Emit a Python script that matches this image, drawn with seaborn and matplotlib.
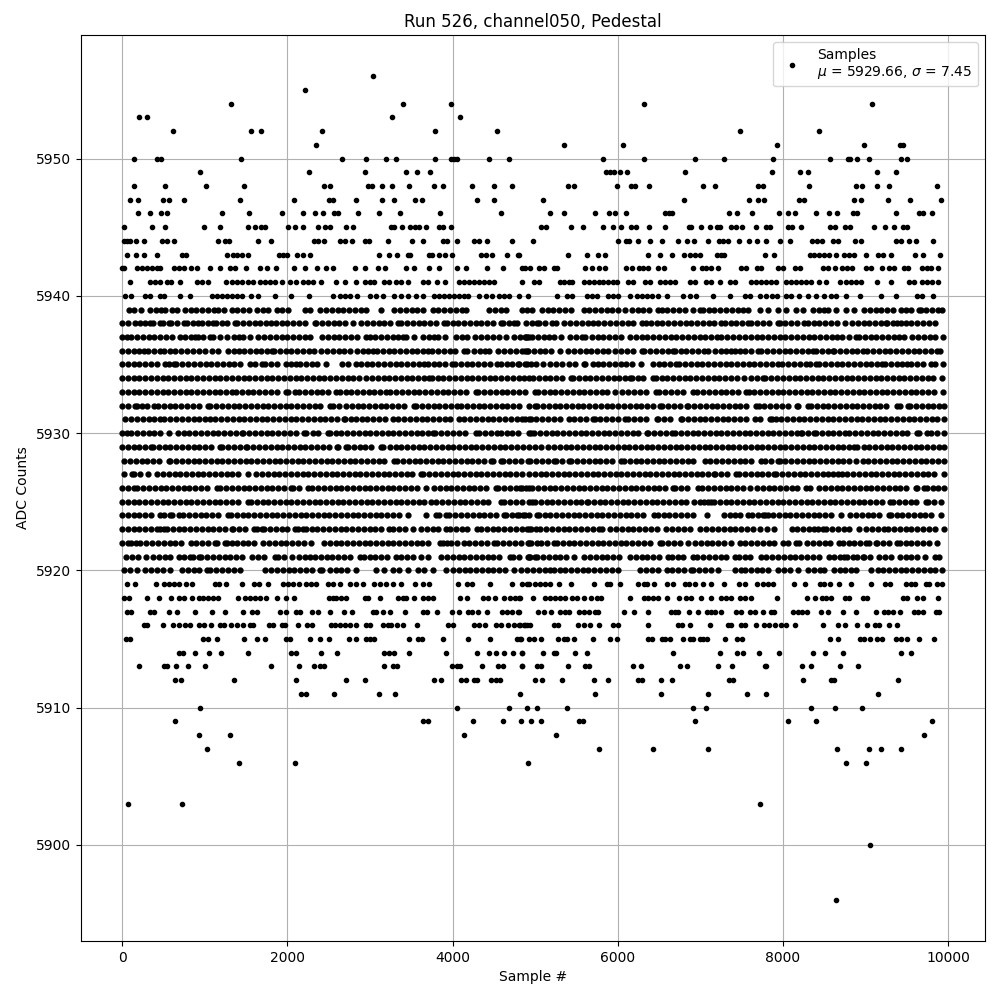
"""
Pedestal samples for run 526, channel050, one list of sample numbers per ADC level.
Sample numbers are read off the picture. Where points merge into a bar they are
estimates that follow the bar's extent, so these rows hold fewer points than the original.
"""
import matplotlib
matplotlib.use("Agg")
import matplotlib.pyplot as plt
import pandas as pd
import seaborn as sns

TITLE = "Run 526, channel050, Pedestal"
LEGEND_LABEL = "Samples\n$\\mu$ = 5929.66, $\\sigma$ = 7.45"

s5956 = [3035]
s5955 = [2215]
s5954 = [1323, 3397, 3976, 6314, 9075]
s5953 = [200, 298, 3264, 4096]
s5952 = [611, 1564, 1684, 2420, 3783, 4543, 7483, 8436]
s5951 = [2348, 5349, 6060, 7930, 8979, 9413, 9457]
s5950 = [141, 418, 466, 1443, 2661, 2951, 3192, 3312, 3783, 3976, 4012, 4060, 4446, 4679, 5819, 6314, 6929, 7290, 7881, 8569, 8786, 8810, 8894, 9039, 9433, 9497]
s5949 = [949, 2263, 2939, 3433, 3566, 3723, 5855, 5904, 5952, 6024, 6109, 6808, 7869, 8207, 8303, 9136, 9365]
s5948 = [141, 515, 1021, 1479, 2444, 2516, 2975, 3023, 3143, 3264, 3469, 3771, 3879, 4241, 4506, 4724, 5397, 5469, 5988, 6157, 6205, 6374, 7037, 7182, 7700, 7761, 8320, 8882, 8955, 9136, 9280, 9859]
s5947 = [92, 189, 490, 563, 744, 1431, 2082, 2504, 2553, 2830, 3143, 3288, 3541, 3626, 4301, 4506, 5095, 6796, 7592, 7700, 7773, 8195, 8255, 8858, 8943, 9268, 9534, 9907]
s5946 = [189, 334, 466, 539, 1214, 1540, 1938, 2191, 2335, 2432, 2565, 2613, 2854, 3107, 3361, 3843, 4591, 5180, 5349, 5723, 5891, 5964, 6096, 6567, 6615, 6651, 7351, 7447, 7628, 7954, 8062, 8147, 8400, 8557, 8653, 8846, 8894, 9365, 9642, 9690, 9799]
s5945 = [20, 358, 515, 997, 1190, 1528, 1612, 1684, 1733, 2010, 2095, 2191, 2372, 2456, 2516, 2710, 2794, 3252, 3288, 3385, 3481, 3541, 3590, 3674, 3831, 3879, 3976, 5071, 5132, 5433, 5578, 5819, 5940, 6036, 6157, 6217, 6374, 6567, 6868, 6892, 7013, 7122, 7206, 7242, 7375, 7435, 7507, 7676, 7797, 7845, 8062, 8110, 8219, 8569, 8629, 8750, 8810, 9099, 9232, 9341, 9453, 9501]
s5944 = [20, 60, 100, 165, 261, 478, 539, 623, 1166, 1250, 1298, 1648, 1805, 2324, 2372, 2444, 2637, 2697, 2782, 2939, 2987, 3216, 3505, 3638, 3879, 3928, 4060, 4265, 4326, 4422, 4724, 4975, 6000, 6096, 6133, 6241, 6386, 6531, 6724, 6844, 6917, 7098, 7230, 7278, 7339, 7471, 7592, 7688, 7797, 7966, 8086, 8352, 8412, 8472, 8605, 8665, 8870, 8943, 9365, 9425, 9522, 9606, 9811]
s5943 = [60, 165, 261, 418, 720, 768, 1274, 1347, 1395, 1455, 1528, 1901, 1950, 1998, 2119, 2191, 2275, 3107, 3228, 3325, 3457, 3481, 3710, 3747, 3831, 3903, 3988, 4350, 4410, 4482, 4663, 4796, 4802, 5397, 5626, 5759, 5843, 6362, 6507, 6651, 6796, 6880, 6929, 7001, 7206, 7254, 7290, 7785, 7893, 8328, 8376, 8436, 8496, 8557, 8641, 8738, 8798, 8858, 9003, 9148, 9208, 9304, 9594, 9698, 9895]
s5942 = [0, 20, 181, 241, 302, 362, 422, 462, 623, 683, 744, 832, 912, 1065, 1186, 1306, 1367, 1495, 1668, 1749, 1869, 2086, 2215, 2360, 2472, 2553, 2818, 2939, 3095, 3180, 3437, 3530, 3719, 3839, 4060, 4169, 4422, 4615, 4844, 4882, 4943, 5043, 5104, 5224, 5264, 5602, 5694, 5767, 5843, 6096, 6169, 6253, 6302, 6362, 6482, 6555, 6905, 7025, 7073, 7134, 7214, 7495, 7556, 7688, 7737, 7942, 8002, 8147, 8207, 8484, 8545, 8629, 8714, 8774, 8834, 9003, 9063, 9196, 9280, 9341, 9461, 9510, 9678, 9739, 9787, 9871]
s5941 = [92, 342, 402, 462, 543, 591, 703, 905, 965, 1045, 1254, 1327, 1387, 1447, 1528, 1588, 1668, 1729, 1789, 1849, 1930, 2030, 2110, 2191, 2251, 2312, 2408, 2593, 2693, 2830, 2935, 2995, 3055, 3176, 3236, 3316, 3377, 3457, 3638, 3698, 3807, 3903, 4080, 4141, 4201, 4261, 4322, 4382, 4442, 4502, 4844, 4983, 5043, 5305, 5345, 5405, 5445, 5586, 5646, 5707, 5767, 5827, 5887, 5948, 5996, 6129, 6189, 6330, 6390, 6511, 6571, 6631, 6691, 6872, 6933, 7073, 7134, 7234, 7355, 7415, 7608, 7676, 7737, 7797, 7857, 7918, 8038, 8098, 8159, 8219, 8279, 8340, 8440, 8521, 8693, 8762, 8822, 8882, 8943, 9136, 9304, 9525, 9586, 9686, 9747, 9807, 9875]
s5940 = [40, 108, 273, 334, 454, 502, 703, 816, 1085, 1146, 1206, 1266, 1327, 1387, 1447, 1556, 1640, 1849, 2046, 2263, 2553, 2641, 2693, 2754, 2842, 2995, 3075, 3156, 3296, 3377, 3457, 3558, 3638, 3779, 3839, 3899, 3960, 4020, 4080, 4141, 4193, 4322, 4410, 4474, 4563, 4623, 4683, 4802, 4915, 5264, 5385, 5445, 5626, 5686, 5747, 5879, 5948, 6008, 6149, 6229, 6289, 6350, 6418, 6482, 6599, 6784, 6872, 6953, 7154, 7355, 7536, 7604, 7716, 7797, 7865, 7930, 8038, 8098, 8199, 8300, 8400, 8500, 8581, 8641, 8762, 8935, 9184, 9365, 9626, 9686, 9811]
s5939 = [80, 141, 229, 342, 410, 475, 523, 603, 663, 764, 830, 900, 970, 1040, 1110, 1166, 1238, 1327, 1395, 1465, 1535, 1628, 1709, 1769, 1870, 1940, 2010, 2211, 2280, 2392, 2472, 2540, 2610, 2680, 2750, 2820, 2890, 2955, 3135, 3296, 3365, 3435, 3505, 3575, 3645, 3759, 3819, 3899, 3970, 4040, 4110, 4161, 4443, 4513, 4583, 4645, 4842, 4905, 4963, 5083, 5150, 5220, 5290, 5365, 5433, 5586, 5655, 5725, 5795, 5865, 5935, 6005, 6088, 6169, 6240, 6310, 6380, 6490, 6531, 6600, 6670, 6740, 6812, 6913, 6993, 7033, 7100, 7170, 7240, 7310, 7380, 7450, 7516, 7576, 7716, 7817, 7938, 8038, 8159, 8239, 8360, 8430, 8500, 8541, 8641, 8762, 8862, 8983, 9050, 9120, 9190, 9260, 9330, 9425, 9485, 9546, 9646, 9666, 9735, 9805, 9875, 9928]
s5938 = [0, 70, 161, 213, 280, 342, 374, 462, 490, 563, 591, 660, 744, 784, 855, 924, 973, 1040, 1105, 1134, 1205, 1275, 1367, 1395, 1465, 1535, 1605, 1675, 1745, 1797, 1858, 1930, 2000, 2070, 2140, 2210, 2331, 2352, 2420, 2490, 2560, 2630, 2700, 2794, 2894, 2965, 3035, 3105, 3175, 3245, 3337, 3377, 3450, 3520, 3590, 3660, 3730, 3800, 3892, 3928, 4000, 4070, 4140, 4210, 4280, 4350, 4420, 4490, 4583, 4615, 4685, 4744, 4784, 4884, 4963, 5023, 5051, 5120, 5204, 5256, 5345, 5425, 5495, 5565, 5635, 5705, 5759, 5839, 5910, 5980, 6050, 6120, 6190, 6289, 6338, 6398, 6470, 6540, 6610, 6680, 6750, 6820, 6890, 6960, 7030, 7100, 7170, 7254, 7294, 7365, 7435, 7505, 7576, 7616, 7690, 7760, 7830, 7938, 7958, 8030, 8100, 8170, 8259, 8300, 8370, 8440, 8510, 8580, 8650, 8750, 8834, 8905, 8975, 9045, 9115, 9185, 9244, 9264, 9335, 9385, 9425, 9485, 9555, 9625, 9695, 9765, 9839]
s5937 = [0, 60, 108, 180, 250, 320, 390, 460, 530, 600, 703, 764, 830, 884, 913, 985, 1065, 1105, 1185, 1266, 1359, 1420, 1467, 1548, 1648, 1720, 1790, 1860, 1930, 2000, 2070, 2140, 2210, 2271, 2420, 2490, 2560, 2630, 2700, 2770, 2840, 2955, 2995, 3065, 3135, 3205, 3276, 3337, 3400, 3437, 3538, 3638, 3719, 3779, 3819, 3912, 4040, 4110, 4180, 4273, 4349, 4420, 4490, 4560, 4643, 4744, 4815, 4885, 4925, 4874, 4902, 4963, 5035, 5105, 5164, 5224, 5317, 5425, 5495, 5565, 5606, 5686, 5755, 5825, 5895, 5965, 6035, 6149, 6217, 6290, 6360, 6430, 6500, 6570, 6640, 6710, 6780, 6850, 6920, 6990, 7060, 7130, 7200, 7254, 7326, 7400, 7470, 7540, 7610, 7680, 7750, 7820, 7890, 7960, 8030, 8100, 8170, 8240, 8310, 8380, 8450, 8520, 8590, 8659, 8718, 8800, 8882, 8922, 8990, 9060, 9130, 9200, 9270, 9340, 9405, 9465, 9566, 9635, 9705, 9775, 9845, 9940]
s5936 = [0, 70, 140, 210, 261, 314, 385, 462, 503, 575, 645, 715, 785, 855, 925, 1005, 1085, 1166, 1278, 1350, 1419, 1475, 1545, 1615, 1685, 1755, 1809, 1841, 1910, 1980, 2050, 2120, 2190, 2260, 2319, 2412, 2480, 2550, 2620, 2690, 2760, 2842, 2915, 2975, 3035, 3083, 3155, 3225, 3295, 3365, 3435, 3505, 3575, 3645, 3698, 3751, 3825, 3895, 3965, 4035, 4141, 4181, 4260, 4330, 4394, 4442, 4551, 4625, 4695, 4765, 4835, 4904, 4882, 4914, 4985, 5055, 5125, 5195, 5305, 5397, 5470, 5540, 5610, 5680, 5750, 5820, 5880, 5968, 6040, 6110, 6180, 6289, 6322, 6395, 6465, 6535, 6605, 6671, 6691, 6760, 6830, 6900, 6970, 7040, 7093, 7174, 7246, 7310, 7367, 7415, 7475, 7545, 7615, 7696, 7737, 7810, 7880, 7950, 8020, 8090, 8160, 8230, 8300, 8360, 8400, 8470, 8540, 8601, 8621, 8690, 8760, 8830, 8900, 8963, 9015, 9090, 9160, 9230, 9300, 9370, 9440, 9510, 9580, 9650, 9720, 9790, 9860, 9900]
s5935 = [0, 70, 140, 210, 280, 350, 420, 523, 563, 623, 655, 730, 800, 870, 940, 1010, 1080, 1150, 1220, 1290, 1360, 1430, 1548, 1608, 1688, 1729, 1800, 1870, 1982, 2050, 2110, 2151, 2225, 2295, 2365, 2472, 2665, 2740, 2834, 2886, 2960, 3030, 3100, 3170, 3240, 3310, 3380, 3450, 3520, 3590, 3658, 3698, 3770, 3840, 3910, 3998, 4024, 4100, 4170, 4240, 4310, 4380, 4450, 4542, 4583, 4655, 4725, 4795, 4904, 4802, 4875, 4945, 5015, 5091, 5184, 5255, 5325, 5405, 5480, 5586, 5606, 5706, 5755, 5825, 5895, 5965, 6035, 6105, 6175, 6281, 6422, 6495, 6565, 6635, 6711, 6744, 6815, 6885, 6955, 7025, 7095, 7165, 7235, 7305, 7375, 7445, 7515, 7585, 7655, 7725, 7795, 7865, 7938, 7986, 8066, 8139, 8210, 8279, 8328, 8400, 8440, 8510, 8580, 8650, 8720, 8790, 8860, 8930, 9000, 9070, 9140, 9204, 9236, 9305, 9375, 9445, 9505, 9546, 9620, 9690, 9787, 9835, 9940]
s5934 = [0, 70, 140, 210, 280, 350, 420, 490, 560, 630, 700, 770, 840, 910, 980, 1050, 1120, 1190, 1260, 1330, 1400, 1470, 1540, 1610, 1680, 1750, 1820, 1890, 1960, 2030, 2100, 2170, 2240, 2310, 2380, 2450, 2520, 2590, 2660, 2730, 2800, 2870, 2955, 3025, 3095, 3165, 3235, 3305, 3375, 3445, 3515, 3585, 3655, 3719, 3747, 3820, 3890, 3960, 4030, 4100, 4170, 4240, 4310, 4380, 4450, 4520, 4590, 4660, 4730, 4800, 4870, 4931, 4971, 5045, 5115, 5185, 5255, 5325, 5437, 5457, 5530, 5600, 5670, 5740, 5810, 5880, 5950, 6020, 6090, 6149, 6169, 6240, 6310, 6430, 6458, 6530, 6600, 6670, 6740, 6810, 6880, 6950, 7020, 7090, 7160, 7230, 7300, 7370, 7440, 7527, 7616, 7690, 7757, 7785, 7860, 7930, 8000, 8070, 8140, 8210, 8280, 8350, 8420, 8490, 8560, 8630, 8700, 8770, 8840, 8910, 8980, 9050, 9120, 9190, 9260, 9330, 9400, 9470, 9540, 9610, 9680, 9750, 9820, 9928]
s5933 = [0, 70, 140, 210, 280, 350, 420, 490, 560, 630, 700, 770, 840, 910, 980, 1050, 1120, 1190, 1260, 1327, 1379, 1450, 1520, 1590, 1660, 1730, 1800, 1870, 1990, 2010, 2090, 2143, 2215, 2285, 2355, 2425, 2495, 2593, 2633, 2705, 2775, 2845, 2915, 2985, 3055, 3125, 3196, 3248, 3320, 3390, 3460, 3530, 3600, 3670, 3740, 3810, 3880, 3950, 4020, 4090, 4160, 4281, 4313, 4385, 4455, 4525, 4595, 4665, 4735, 4805, 4875, 5001, 5035, 5105, 5175, 5245, 5315, 5385, 5455, 5525, 5595, 5665, 5735, 5805, 5875, 5968, 6056, 6130, 6200, 6270, 6340, 6458, 6503, 6575, 6645, 6715, 6785, 6913, 6961, 7035, 7105, 7175, 7245, 7315, 7385, 7455, 7556, 7584, 7655, 7725, 7795, 7865, 7935, 8005, 8075, 8145, 8215, 8285, 8355, 8425, 8495, 8565, 8635, 8705, 8775, 8845, 8915, 8985, 9055, 9125, 9195, 9265, 9335, 9405, 9475, 9545, 9615, 9685, 9755, 9825, 9940]
s5932 = [0, 70, 161, 181, 241, 302, 382, 430, 505, 575, 645, 715, 785, 855, 925, 1045, 1065, 1140, 1210, 1280, 1350, 1420, 1490, 1560, 1630, 1700, 1770, 1840, 1910, 1980, 2050, 2120, 2190, 2260, 2330, 2400, 2521, 2553, 2625, 2705, 2780, 2850, 2920, 2990, 3060, 3130, 3200, 3270, 3340, 3410, 3538, 3558, 3630, 3700, 3770, 3840, 3910, 3980, 4060, 4100, 4175, 4245, 4315, 4385, 4455, 4525, 4595, 4665, 4735, 4805, 4925, 5001, 5023, 5095, 5165, 5235, 5305, 5375, 5445, 5515, 5585, 5655, 5725, 5795, 5865, 5935, 6005, 6075, 6145, 6215, 6285, 6355, 6425, 6510, 6538, 6610, 6680, 6750, 6844, 6852, 6925, 6995, 7065, 7135, 7205, 7275, 7345, 7415, 7485, 7555, 7676, 7705, 7775, 7845, 7915, 7985, 8055, 8171, 8187, 8300, 8340, 8410, 8480, 8550, 8620, 8690, 8760, 8830, 8900, 8970, 9040, 9110, 9180, 9250, 9385, 9417, 9513, 9538, 9610, 9680, 9750, 9820, 9890, 9948]
s5931 = [40, 110, 180, 250, 320, 390, 462, 511, 585, 655, 725, 795, 865, 935, 1005, 1065, 1126, 1200, 1270, 1340, 1410, 1480, 1550, 1620, 1690, 1760, 1830, 1900, 1970, 2040, 2110, 2180, 2250, 2320, 2390, 2460, 2530, 2600, 2682, 2701, 2770, 2826, 2900, 2970, 3040, 3110, 3180, 3276, 3345, 3415, 3485, 3555, 3625, 3695, 3765, 3835, 3905, 3975, 4080, 4141, 4215, 4285, 4355, 4425, 4495, 4565, 4635, 4705, 4775, 4845, 4925, 4875, 4945, 5015, 5085, 5155, 5225, 5295, 5405, 5469, 5540, 5610, 5706, 5719, 5790, 5860, 5930, 6000, 6088, 6129, 6200, 6270, 6340, 6470, 6491, 6560, 6630, 6760, 6780, 6850, 6920, 6990, 7060, 7130, 7200, 7270, 7340, 7410, 7480, 7550, 7664, 7725, 7837, 7865, 7918, 7978, 8050, 8120, 8190, 8260, 8330, 8400, 8470, 8540, 8610, 8680, 8750, 8820, 8890, 8960, 9030, 9100, 9170, 9240, 9310, 9380, 9450, 9520, 9590, 9660, 9730, 9800, 9870, 9948]
s5930 = [0, 60, 108, 180, 250, 320, 390, 460, 563, 671, 745, 815, 885, 955, 1025, 1095, 1165, 1235, 1305, 1375, 1447, 1467, 1540, 1610, 1680, 1750, 1820, 1890, 1960, 2030, 2100, 2199, 2231, 2305, 2375, 2493, 2513, 2585, 2655, 2725, 2795, 2865, 2935, 3005, 3075, 3145, 3215, 3285, 3355, 3425, 3495, 3565, 3635, 3705, 3759, 3791, 3865, 3935, 4005, 4075, 4145, 4281, 4322, 4395, 4465, 4542, 4583, 4655, 4725, 4795, 4925, 4955, 4987, 5060, 5130, 5200, 5270, 5340, 5410, 5480, 5550, 5620, 5690, 5760, 5830, 5900, 5970, 6040, 6110, 6180, 6250, 6350, 6370, 6440, 6510, 6580, 6659, 6691, 6765, 6835, 6905, 6975, 7045, 7115, 7185, 7255, 7325, 7395, 7465, 7535, 7605, 7675, 7745, 7815, 7885, 7955, 8025, 8095, 8165, 8219, 8231, 8300, 8372, 8400, 8470, 8540, 8610, 8680, 8750, 8802, 8875, 8945, 9015, 9085, 9155, 9225, 9295, 9365, 9435, 9505, 9626, 9646, 9747, 9787, 9860, 9948]
s5929 = [0, 70, 140, 210, 280, 350, 370, 445, 515, 585, 655, 725, 795, 865, 935, 1005, 1075, 1186, 1214, 1285, 1355, 1425, 1495, 1515, 1590, 1660, 1730, 1800, 1870, 1940, 2010, 2080, 2150, 2220, 2290, 2360, 2430, 2500, 2601, 2617, 2714, 2734, 2805, 2875, 2945, 3015, 3135, 3164, 3240, 3310, 3380, 3450, 3520, 3590, 3660, 3730, 3800, 3870, 3940, 4010, 4080, 4150, 4220, 4290, 4360, 4430, 4500, 4570, 4640, 4710, 4780, 4850, 4925, 5000, 5075, 5156, 5230, 5300, 5370, 5440, 5510, 5580, 5650, 5720, 5790, 5860, 5930, 6000, 6070, 6140, 6210, 6280, 6350, 6420, 6490, 6560, 6630, 6700, 6770, 6840, 6910, 6980, 7050, 7120, 7190, 7260, 7330, 7400, 7470, 7540, 7610, 7680, 7750, 7820, 7890, 7960, 8030, 8100, 8170, 8240, 8310, 8380, 8450, 8520, 8590, 8660, 8730, 8800, 8862, 8902, 8975, 9045, 9115, 9185, 9255, 9325, 9395, 9465, 9535, 9605, 9675, 9745, 9815, 9885, 9948]
s5928 = [20, 95, 165, 235, 305, 375, 445, 563, 583, 655, 725, 795, 865, 935, 1005, 1075, 1145, 1215, 1285, 1355, 1425, 1495, 1565, 1635, 1705, 1775, 1845, 1915, 1985, 2055, 2125, 2195, 2265, 2335, 2405, 2475, 2545, 2615, 2685, 2755, 2825, 2895, 2965, 3035, 3105, 3175, 3296, 3325, 3400, 3470, 3540, 3610, 3680, 3750, 3820, 3890, 3960, 4030, 4100, 4170, 4240, 4310, 4380, 4462, 4490, 4583, 4611, 4685, 4755, 4825, 4914, 4943, 5015, 5085, 5155, 5224, 5252, 5325, 5413, 5437, 5510, 5580, 5650, 5720, 5790, 5860, 5930, 6040, 6072, 6145, 6215, 6285, 6355, 6425, 6495, 6565, 6635, 6705, 6775, 6845, 6915, 7053, 7121, 7195, 7265, 7335, 7405, 7475, 7545, 7615, 7729, 7777, 7850, 7938, 7958, 8030, 8100, 8170, 8240, 8310, 8380, 8450, 8520, 8590, 8660, 8730, 8800, 8882, 8963, 9035, 9105, 9175, 9245, 9315, 9385, 9455, 9525, 9595, 9665, 9735, 9805, 9875, 9948]
s5927 = [28, 121, 149, 220, 310, 422, 495, 565, 635, 705, 775, 845, 915, 985, 1055, 1125, 1195, 1265, 1335, 1405, 1528, 1620, 1695, 1765, 1835, 1905, 1975, 2045, 2115, 2185, 2255, 2325, 2395, 2465, 2535, 2605, 2675, 2745, 2815, 2885, 2955, 3025, 3095, 3165, 3235, 3305, 3375, 3445, 3515, 3618, 3646, 3720, 3790, 3860, 3930, 4000, 4070, 4140, 4210, 4280, 4350, 4420, 4490, 4560, 4630, 4700, 4770, 4840, 4925, 4995, 5065, 5135, 5205, 5275, 5345, 5415, 5485, 5555, 5625, 5695, 5765, 5835, 5905, 5975, 6045, 6115, 6185, 6255, 6325, 6395, 6465, 6535, 6605, 6675, 6745, 6815, 6885, 6955, 7025, 7095, 7166, 7182, 7255, 7325, 7435, 7467, 7540, 7610, 7680, 7750, 7820, 7897, 7918, 7990, 8060, 8130, 8200, 8270, 8340, 8410, 8480, 8549, 8601, 8661, 8709, 8780, 8850, 8920, 8990, 9060, 9130, 9200, 9270, 9340, 9410, 9480, 9550, 9620, 9690, 9760, 9830, 9948]
s5926 = [0, 70, 141, 181, 255, 325, 395, 465, 535, 605, 675, 745, 815, 885, 955, 1025, 1146, 1186, 1260, 1330, 1400, 1470, 1540, 1610, 1680, 1750, 1820, 1890, 1960, 2050, 2070, 2145, 2251, 2299, 2375, 2445, 2515, 2585, 2655, 2725, 2795, 2865, 2935, 3005, 3075, 3145, 3215, 3285, 3355, 3425, 3495, 3565, 3678, 3771, 3845, 3915, 3985, 4055, 4125, 4195, 4265, 4335, 4405, 4523, 4551, 4625, 4695, 4765, 4835, 4925, 4822, 4895, 4965, 5035, 5105, 5175, 5245, 5315, 5385, 5455, 5525, 5595, 5665, 5735, 5805, 5875, 5945, 6015, 6085, 6155, 6225, 6295, 6365, 6435, 6505, 6575, 6671, 6691, 6765, 6835, 6973, 7021, 7095, 7165, 7235, 7305, 7375, 7445, 7515, 7596, 7684, 7755, 7825, 7895, 7965, 8035, 8105, 8175, 8279, 8332, 8440, 8510, 8580, 8650, 8720, 8790, 8860, 8930, 9000, 9070, 9140, 9210, 9280, 9350, 9420, 9490, 9606, 9626, 9707, 9739, 9810, 9880, 9948]
s5925 = [0, 70, 140, 210, 280, 350, 420, 490, 560, 630, 700, 770, 840, 910, 980, 1050, 1120, 1190, 1260, 1330, 1400, 1528, 1556, 1630, 1700, 1770, 1840, 1910, 1980, 2050, 2120, 2190, 2260, 2330, 2400, 2470, 2540, 2610, 2680, 2750, 2820, 2890, 2960, 3030, 3100, 3170, 3240, 3310, 3380, 3450, 3520, 3590, 3660, 3739, 3799, 3875, 3945, 4015, 4085, 4155, 4225, 4295, 4365, 4435, 4583, 4623, 4700, 4770, 4840, 4925, 4963, 4995, 5070, 5140, 5210, 5280, 5350, 5420, 5490, 5560, 5626, 5638, 5710, 5780, 5850, 5920, 5990, 6060, 6130, 6200, 6270, 6340, 6410, 6480, 6550, 6620, 6690, 6760, 6830, 6925, 6993, 7045, 7093, 7134, 7162, 7235, 7305, 7375, 7445, 7515, 7585, 7655, 7725, 7795, 7865, 7935, 8005, 8075, 8145, 8215, 8285, 8355, 8425, 8495, 8565, 8635, 8705, 8775, 8845, 8915, 8985, 9055, 9125, 9195, 9296, 9333, 9405, 9475, 9545, 9615, 9727, 9755, 9830, 9916]
s5924 = [0, 70, 140, 210, 280, 350, 454, 511, 575, 603, 683, 736, 810, 880, 950, 1020, 1090, 1160, 1286, 1315, 1390, 1460, 1530, 1600, 1670, 1740, 1810, 1880, 1950, 2020, 2090, 2160, 2230, 2300, 2370, 2440, 2510, 2580, 2650, 2720, 2790, 2860, 2930, 3000, 3070, 3140, 3210, 3280, 3350, 3457, 3678, 3799, 3839, 3920, 3960, 4035, 4105, 4175, 4245, 4315, 4385, 4455, 4525, 4623, 4643, 4715, 4785, 4855, 4925, 4802, 4875, 5023, 5043, 5115, 5185, 5255, 5325, 5395, 5465, 5535, 5605, 5675, 5745, 5815, 5885, 5955, 6025, 6095, 6165, 6235, 6305, 6442, 6482, 6555, 6625, 6695, 6765, 6835, 6905, 7081, 7286, 7360, 7415, 7475, 7576, 7628, 7700, 7757, 7777, 7817, 7877, 7950, 8020, 8090, 8160, 8230, 8300, 8370, 8440, 8510, 8580, 8701, 8814, 8885, 8955, 9025, 9095, 9165, 9284, 9304, 9375, 9445, 9515, 9585, 9655, 9725, 9795, 9916]
s5923 = [0, 70, 140, 210, 280, 350, 422, 462, 503, 543, 615, 685, 755, 825, 895, 965, 1035, 1105, 1175, 1245, 1327, 1347, 1420, 1490, 1596, 1628, 1688, 1716, 1790, 1860, 1930, 2000, 2090, 2131, 2191, 2223, 2295, 2365, 2435, 2505, 2575, 2645, 2715, 2785, 2855, 2925, 2995, 3065, 3135, 3228, 3284, 3355, 3425, 3518, 3618, 3690, 3760, 3830, 3920, 3968, 4040, 4110, 4180, 4301, 4342, 4415, 4485, 4555, 4625, 4695, 4765, 4835, 4925, 4902, 4955, 5011, 5063, 5135, 5205, 5275, 5345, 5415, 5485, 5555, 5625, 5695, 5767, 5807, 5908, 5976, 6050, 6120, 6190, 6260, 6330, 6400, 6470, 6579, 6659, 6730, 6800, 6870, 6993, 7073, 7145, 7215, 7285, 7355, 7425, 7495, 7565, 7635, 7717, 7809, 7897, 8106, 8175, 8245, 8315, 8380, 8420, 8480, 8521, 8595, 8665, 8735, 8805, 8922, 9003, 9075, 9145, 9224, 9272, 9345, 9415, 9485, 9555, 9625, 9695, 9765, 9835, 9948]
s5922 = [0, 68, 108, 173, 221, 295, 365, 435, 505, 575, 645, 715, 832, 896, 970, 1040, 1126, 1154, 1246, 1274, 1327, 1387, 1460, 1530, 1600, 1709, 1777, 1850, 1920, 1990, 2060, 2130, 2200, 2291, 2440, 2515, 2585, 2655, 2725, 2795, 2865, 2935, 3005, 3075, 3145, 3215, 3285, 3355, 3425, 3495, 3565, 3635, 3705, 3847, 3887, 3928, 3984, 4055, 4141, 4201, 4275, 4345, 4415, 4502, 4543, 4615, 4685, 4755, 4825, 4925, 4914, 4955, 5023, 5067, 5140, 5224, 5264, 5335, 5405, 5475, 5545, 5615, 5685, 5755, 5825, 5895, 5965, 6035, 6105, 6175, 6245, 6315, 6385, 6511, 6539, 6610, 6680, 6750, 6852, 6933, 7005, 7075, 7145, 7215, 7285, 7375, 7475, 7545, 7615, 7685, 7755, 7825, 7895, 7998, 8058, 8159, 8199, 8291, 8365, 8435, 8505, 8575, 8681, 8722, 8795, 8865, 8935, 9003, 9043, 9124, 9136, 9210, 9280, 9385, 9413, 9485, 9555, 9625, 9695, 9765, 9859]
s5921 = [52, 125, 195, 293, 370, 445, 515, 585, 683, 752, 816, 864, 925, 957, 1030, 1100, 1170, 1240, 1310, 1380, 1450, 1568, 1648, 1720, 1849, 1889, 1960, 2062, 2143, 2215, 2279, 2332, 2405, 2475, 2545, 2615, 2685, 2755, 2882, 2923, 2995, 3065, 3135, 3205, 3316, 3377, 3450, 3520, 3618, 3698, 3859, 3930, 4000, 4080, 4141, 4215, 4285, 4355, 4425, 4495, 4565, 4691, 4736, 4810, 4925, 4914, 4943, 4995, 5023, 5095, 5165, 5235, 5305, 5375, 5469, 5590, 5665, 5735, 5805, 5875, 5945, 6015, 6149, 6217, 6289, 6350, 6425, 6495, 6611, 6651, 6725, 6795, 6913, 6961, 7035, 7105, 7175, 7245, 7315, 7415, 7463, 7535, 7605, 7737, 7797, 7870, 7940, 8010, 8080, 8150, 8220, 8290, 8360, 8430, 8561, 8613, 8685, 8742, 8774, 8842, 8890, 8963, 8983, 9055, 9164, 9235, 9305, 9417, 9485, 9555, 9625, 9715, 9835, 9887]
s5920 = [20, 95, 181, 281, 355, 425, 495, 583, 724, 795, 865, 935, 1025, 1065, 1140, 1210, 1280, 1350, 1427, 1729, 1805, 1875, 1945, 2015, 2085, 2155, 2225, 2295, 2392, 2424, 2513, 2585, 2655, 2725, 2834, 3075, 3176, 3276, 3350, 3457, 3578, 3650, 3759, 3920, 4000, 4075, 4145, 4215, 4285, 4355, 4425, 4495, 4565, 4635, 4744, 4824, 4900, 4980, 5050, 5120, 5184, 5224, 5295, 5365, 5435, 5505, 5575, 5645, 5715, 5785, 5855, 5925, 6000, 6269, 6345, 6415, 6485, 6591, 6660, 6730, 6800, 6892, 6913, 6985, 7055, 7125, 7214, 7415, 7495, 7536, 7610, 7680, 7750, 7820, 7938, 8018, 8090, 8179, 8300, 8375, 8445, 8500, 8613, 8685, 8755, 8825, 8882, 9071, 9145, 9215, 9285, 9355, 9425, 9495, 9565, 9635, 9705, 9775, 9845, 9930]
s5919 = [60, 161, 414, 511, 563, 623, 683, 776, 844, 1126, 1178, 1258, 1447, 1596, 1660, 1769, 1950, 2010, 2070, 2143, 2231, 2291, 2352, 2496, 2553, 2641, 2762, 2834, 2914, 3055, 3124, 3196, 3276, 3377, 3550, 3638, 3710, 4072, 4181, 4233, 4454, 4724, 4836, 4904, 4931, 4999, 5063, 5124, 5176, 5292, 5433, 5711, 5867, 5908, 6028, 6241, 6322, 6350, 6434, 6591, 6671, 6812, 6860, 6941, 7037, 7126, 7290, 7471, 7544, 7688, 7757, 7817, 7881, 8135, 8271, 8448, 8500, 8569, 8677, 8822, 9067, 9236, 9296, 9485, 9546, 9594, 9726, 9767, 9867, 9928]
s5918 = [20, 80, 302, 446, 587, 683, 744, 852, 937, 977, 1045, 1105, 1166, 1403, 1487, 1548, 1608, 1668, 1737, 1877, 1990, 2078, 2504, 2553, 2593, 2653, 2714, 2935, 2975, 3120, 3337, 3397, 3437, 3534, 3646, 3698, 3767, 4096, 4173, 4370, 4430, 4519, 4627, 4691, 4756, 4812, 4802, 4971, 5116, 5184, 5244, 5305, 5365, 5445, 5506, 5586, 5678, 5747, 5795, 6145, 6314, 6370, 6430, 6482, 6591, 6740, 6824, 6892, 7013, 7134, 7254, 7311, 7375, 7475, 7536, 7616, 7930, 8291, 8392, 8468, 8521, 8581, 8750, 8802, 8963, 9011, 9457, 9505, 9626, 9698, 9871]
s5917 = [60, 108, 342, 382, 563, 659, 884, 1093, 1250, 1467, 1576, 1628, 1910, 1990, 2110, 2151, 2299, 2372, 2516, 2685, 2782, 3043, 3075, 3156, 3240, 3421, 3646, 3686, 3807, 3988, 4076, 4185, 4241, 4313, 4422, 4603, 4663, 4724, 4796, 4802, 5035, 5107, 5192, 5305, 5365, 5405, 5534, 5586, 5646, 5719, 5759, 6076, 6201, 6370, 6643, 6691, 6724, 6860, 6977, 7085, 7134, 7174, 7254, 7435, 7495, 7596, 7664, 7757, 7857, 7897, 8122, 8179, 8227, 8291, 8460, 8545, 8730, 8878, 9124, 9224, 9272, 9333, 9413, 9586, 9638, 9698, 9847, 9887]
s5916 = [261, 302, 494, 615, 683, 764, 824, 925, 997, 1081, 1186, 1234, 1323, 1395, 1459, 1548, 1588, 1781, 1821, 1930, 1970, 2127, 2239, 2299, 2533, 2577, 2633, 2693, 2762, 2826, 2955, 3003, 3156, 3220, 3252, 3325, 3397, 3566, 3940, 4000, 4261, 4322, 4394, 4523, 4583, 4675, 4744, 4804, 4864, 4904, 4822, 4882, 4943, 5224, 5276, 5518, 5586, 5667, 5775, 5948, 6008, 6370, 6724, 6780, 6880, 7113, 7335, 7375, 7487, 7536, 7676, 7773, 7825, 7905, 7978, 8038, 8147, 8484, 8665, 8750, 8894, 9015, 9112, 9164, 9280, 9377]
s5915 = [52, 92, 985, 1045, 1154, 1479, 1636, 1733, 1990, 2038, 2275, 2392, 2504, 2746, 2830, 2955, 2995, 3047, 3469, 3578, 3630, 3879, 4193, 4458, 4784, 4824, 4822, 4923, 4983, 5071, 5276, 5345, 5385, 5473, 5699, 5904, 5988, 6370, 6410, 6531, 6571, 6631, 6784, 6872, 6913, 6993, 7033, 7081, 7302, 7447, 7504, 8569, 8665, 8934, 8975, 9055, 9136, 9196, 9365, 9425, 9497, 9642, 9823]
s5914 = [687, 736, 888, 1057, 1202, 1528, 2046, 2110, 2408, 2601, 3168, 3236, 3296, 3469, 3920, 4301, 4446, 4531, 4627, 4735, 4844, 4842, 5095, 5224, 5252, 5481, 5626, 6663, 7242, 7447, 7520, 7712, 7954, 8364, 8509, 8726, 9425, 9546]
s5913 = [201, 502, 543, 647, 792, 1009, 1805, 2143, 2324, 2400, 2440, 3176, 3276, 3325, 3992, 4048, 4096, 4358, 4551, 4607, 4844, 4842, 5023, 5075, 5397, 5606, 5646, 6181, 6277, 6748, 6844, 7214, 7387, 7777, 7797, 8231, 8340, 8689, 8906]
s5912 = [643, 708, 1359, 2106, 2709, 2939, 3779, 3855, 4108, 4169, 4261, 4301, 4470, 4522, 4571, 4999, 5083, 5325, 5711, 5879, 6241, 6290, 6519, 6651, 7351, 7399, 8243, 8581, 8613, 9389]
s5911 = [2171, 2223, 2565, 3107, 3300, 4820, 5723, 6519, 7097, 7568, 7797, 9148]
s5910 = [949, 4060, 4687, 4904, 5023, 5385, 6905, 7073, 8340, 8629, 8955]
s5909 = [635, 3638, 3698, 4253, 4615, 4832, 4951, 5071, 5530, 5578, 6929, 8062, 8400, 9799]
s5908 = [937, 1311, 4133, 5252, 9702]
s5907 = [1033, 5771, 6422, 7097, 8653, 9039, 9184, 9425]
s5906 = [1419, 2094, 4915, 8762, 9003]
s5903 = [68, 720, 7725]
s5900 = [9055]
s5896 = [8640]

levels = [5956, 5955, 5954, 5953, 5952, 5951, 5950, 5949, 5948, 5947, 5946, 5945, 5944, 5943, 5942, 5941, 5940,
          5939, 5938, 5937, 5936, 5935, 5934, 5933, 5932, 5931, 5930, 5929, 5928, 5927, 5926, 5925, 5924, 5923,
          5922, 5921, 5920, 5919, 5918, 5917, 5916, 5915, 5914, 5913, 5912, 5911, 5910, 5909, 5908, 5907, 5906,
          5903, 5900, 5896]
samples = [s5956, s5955, s5954, s5953, s5952, s5951, s5950, s5949, s5948, s5947, s5946, s5945, s5944, s5943, s5942, s5941, s5940,
           s5939, s5938, s5937, s5936, s5935, s5934, s5933, s5932, s5931, s5930, s5929, s5928, s5927, s5926, s5925, s5924, s5923,
           s5922, s5921, s5920, s5919, s5918, s5917, s5916, s5915, s5914, s5913, s5912, s5911, s5910, s5909, s5908, s5907, s5906,
           s5903, s5900, s5896]


def main():
    df = pd.DataFrame(
        [(s, lvl) for lvl, row in zip(levels, samples) for s in row],
        columns=["sample", "adc"],
    )
    # the merged rows hold fewer points, a slightly larger dot closes them up
    dense = df["adc"].between(5920, 5939)

    fig, ax = plt.subplots(figsize=(10, 10), dpi=100)
    sns.lineplot(
        data=df[~dense], x="sample", y="adc", estimator=None, sort=False, ax=ax,
        linestyle="", marker=".", markersize=6, color="black",
        markeredgecolor="black", markeredgewidth=1.0, label=LEGEND_LABEL,
    )
    sns.lineplot(
        data=df[dense], x="sample", y="adc", estimator=None, sort=False, ax=ax,
        linestyle="", marker=".", markersize=7, color="black",
        markeredgecolor="black", markeredgewidth=1.0, legend=False,
    )
    ax.set_title(TITLE)
    ax.set_xlabel("Sample #")
    ax.set_ylabel("ADC Counts")
    ax.set_xticks([0, 2000, 4000, 6000, 8000, 10000])
    ax.set_yticks([5900, 5910, 5920, 5930, 5940, 5950])
    ax.grid(True)
    ax.legend(loc="upper right")
    fig.subplots_adjust(left=0.081, right=0.985, top=0.965, bottom=0.059)
    fig.savefig("out.png")


if __name__ == "__main__":
    main()
